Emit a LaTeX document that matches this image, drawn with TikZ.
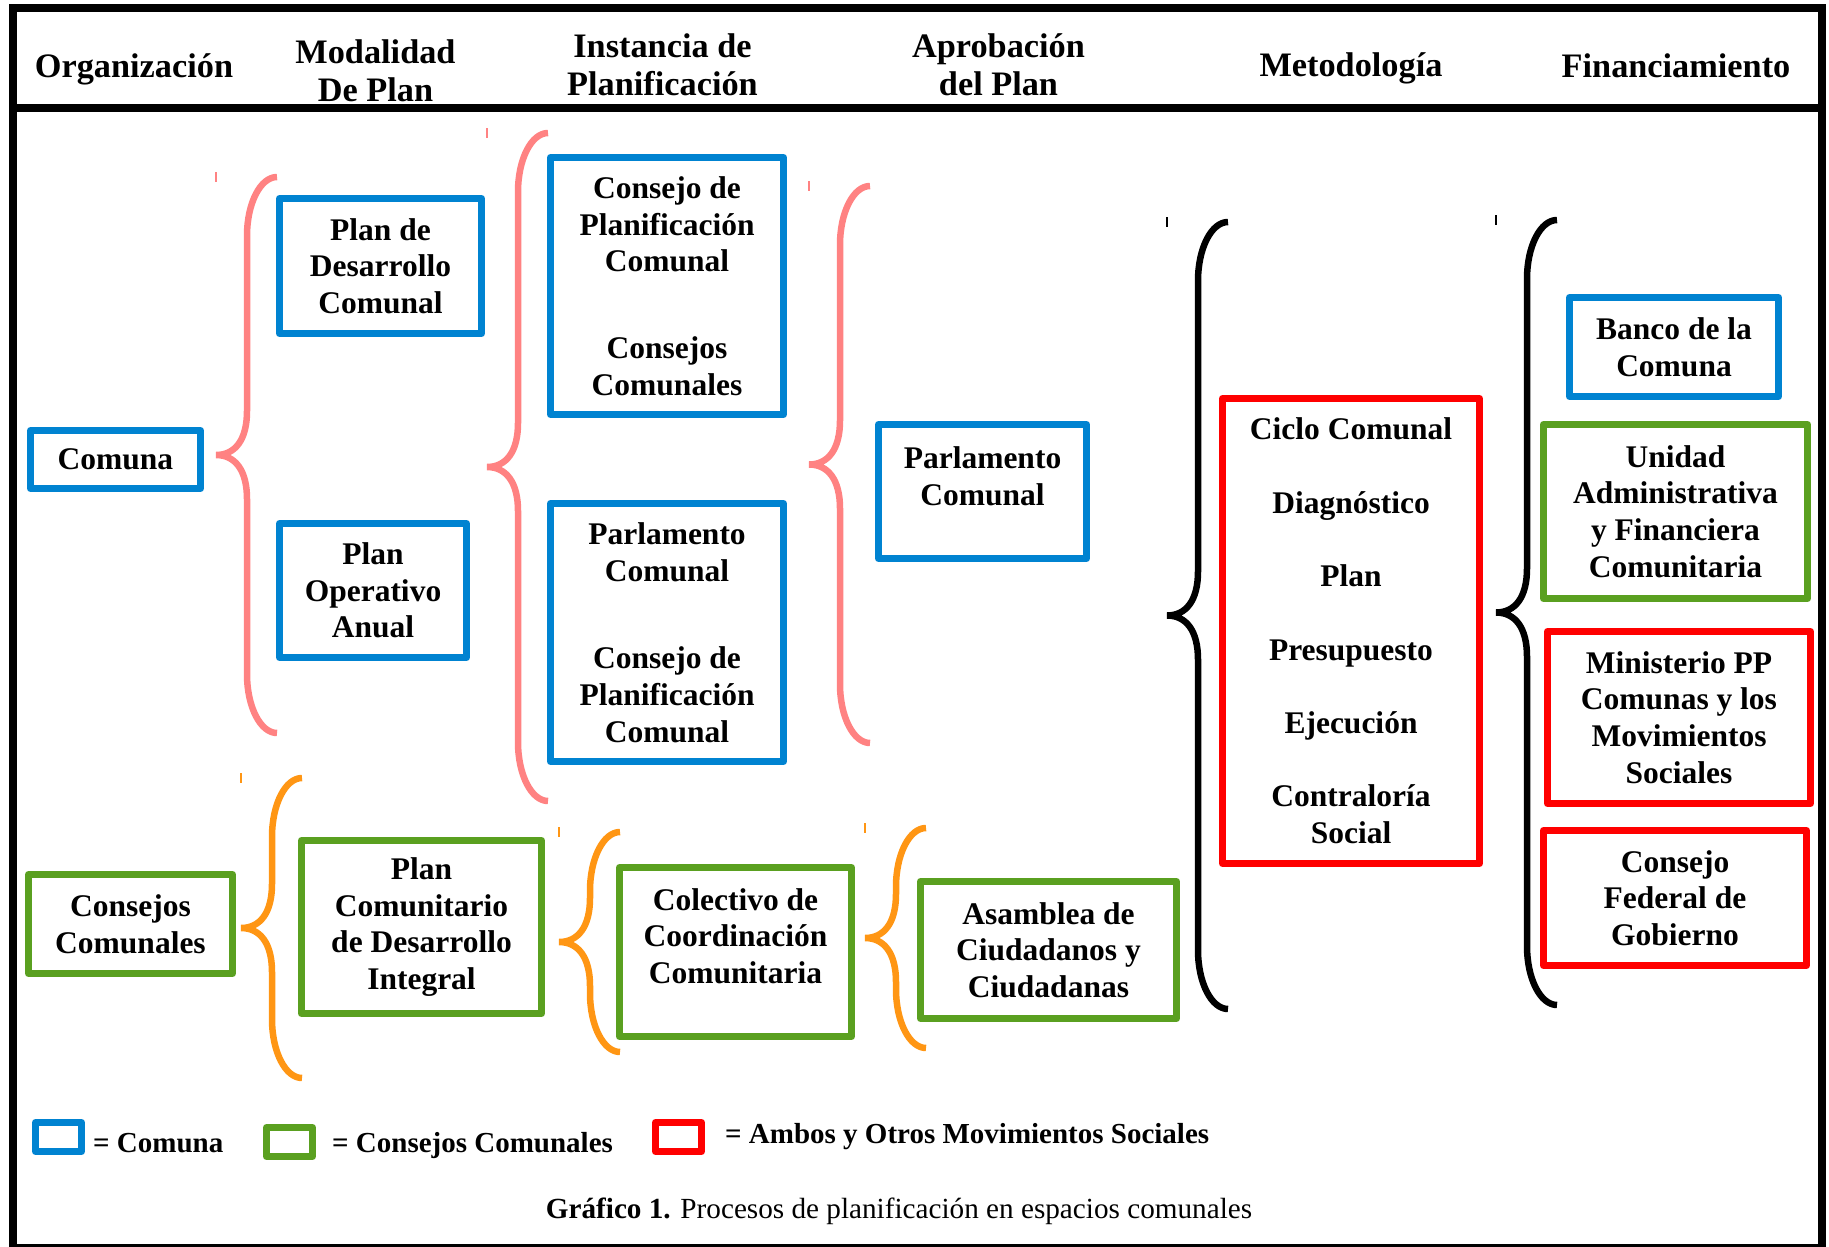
\documentclass[tikz,border=0pt]{standalone}
\usepackage{fontspec}
\setmainfont{Liberation Serif}
\usetikzlibrary{positioning}

\definecolor{azul}{RGB}{0,131,209}
\definecolor{verde}{RGB}{90,160,32}
\definecolor{rojo}{RGB}{255,0,0}
\definecolor{rosa}{RGB}{255,130,130}
\definecolor{naranja}{RGB}{255,150,20}

% llave: color, x of both ends, top, bottom
\newcommand{\llave}[4]{%
  \pgfmathsetmacro\llm{(#3+#4)/2}
  \pgfmathsetmacro\lls{#2-30}
  \pgfmathsetmacro\llt{#2-61}
  \draw[llave,#1] (#2,#3) .. controls (#2-16.5,#3) and (\lls,#3+26) .. (\lls,#3+59)
    -- (\lls,\llm-44) .. controls (\lls,\llm-15) and (\lls-12,\llm) .. (\llt,\llm)
    .. controls (\lls-12,\llm) and (\lls,\llm+15) .. (\lls,\llm+44)
    -- (\lls,#4-59) .. controls (\lls,#4-26) and (#2-16.5,#4) .. (#2,#4);
  \draw[#1,line width=1.5pt] (\llt,#3-5) -- (\llt,#3+5);
}

\begin{document}
\begin{tikzpicture}[x=1pt,y=-1pt,
  caja/.style={line width=7pt,line join=round,align=center,inner sep=0pt,
    font=\fontsize{31.5}{36.7}\selectfont\bfseries},
  comuna/.style={caja,draw=azul},
  consejo/.style={caja,draw=verde},
  ambos/.style={caja,draw=rojo},
  titulo/.style={align=center,inner sep=0pt,font=\fontsize{34.3}{38.5}\selectfont\bfseries},
  llave/.style={line width=6.5pt},
  muestra/.style={line width=7pt,line join=round,minimum width=46pt,minimum height=29pt,inner sep=0pt},
  leyenda/.style={anchor=base west,inner sep=0pt,font=\fontsize{29}{33}\selectfont\bfseries}]
  \useasboundingbox (0,0) rectangle (1829,1247);

  % column titles
  \node[titulo] (organizacion) at (134,69) {Organización};
  \node[titulo] (modalidad) at (375.5,71) {Modalidad\\De Plan};
  \node[titulo] (instancia) at (662.5,65) {Instancia de\\Planificación};
  \node[titulo] (aprobacion) at (998.5,65) {Aprobación\\del Plan};
  \node[titulo] (metodologia) at (1351,68.5) {Metodología};
  \node[titulo] (financiamiento) at (1676,65.5) {Financiamiento};

  \draw[line width=8pt] (13,8) rectangle (1822,1248);
  \draw[line width=8pt] (13,108) -- (1822,108);

  % comuna
  \node[comuna,minimum width=170pt,minimum height=58pt] (comuna) at (115.5,459.5) {Comuna};
  \node[comuna,minimum width=202pt,minimum height=135pt] (desarrollo) at (380.5,266) {Plan de\\Desarrollo\\Comunal};
  \node[comuna,minimum width=187pt,minimum height=134pt] (operativo) at (373,590.5) {Plan\\Operativo\\Anual};
  \node[comuna,minimum width=233pt,minimum height=257pt] (cpc) at (667,286)
    {Consejo de\\Planificación\\Comunal\\[50pt]Consejos\\Comunales};
  \node[comuna,minimum width=233pt,minimum height=258pt] (parlamento) at (667,632.5)
    {Parlamento\\Comunal\\[51pt]Consejo de\\Planificación\\Comunal};
  \node[comuna,minimum width=208pt,minimum height=134pt,text depth=31pt] (aprobado) at (982.5,491.5) {Parlamento\\Comunal};

  % metodologia
  \node[ambos,minimum width=257pt,minimum height=465pt] (ciclo) at (1351,631)
    {Ciclo Comunal\\[36.7pt]Diagnóstico\\[36.7pt]Plan\\[36.7pt]Presupuesto\\[36.7pt]Ejecución\\[36.7pt]Contraloría\\Social};

  % financiamiento
  \node[comuna,minimum width=209pt,minimum height=99pt] (banco) at (1674,347) {Banco de la\\Comuna};
  \node[consejo,minimum width=264pt,minimum height=174pt] (unidad) at (1675.5,511.5)
    {Unidad\\Administrativa\\y Financiera\\Comunitaria};
  \node[ambos,minimum width=263pt,minimum height=172pt] (ministerio) at (1679,717.5)
    {Ministerio PP\\Comunas y los\\Movimientos\\Sociales};
  \node[ambos,minimum width=263pt,minimum height=135pt] (federal) at (1675,898) {Consejo\\Federal de\\Gobierno};

  % consejos comunales
  \node[consejo,minimum width=204pt,minimum height=99pt] (consejos) at (130.5,924) {Consejos\\Comunales};
  \node[consejo,minimum width=240pt,minimum height=173pt] (integral) at (421.5,927)
    {Plan\\Comunitario\\de Desarrollo\\Integral};
  \node[consejo,minimum width=232pt,minimum height=169pt,text depth=32pt] (colectivo) at (735.5,952)
    {Colectivo de\\Coordinación\\Comunitaria};
  \node[consejo,minimum width=256pt,minimum height=137pt] (asamblea) at (1048.5,950)
    {Asamblea de\\Ciudadanos y\\Ciudadanas};

  % llaves
  \llave{rosa}{277}{177}{733}
  \llave{rosa}{548}{133}{801}
  \llave{rosa}{870}{186}{743}
  \llave{black}{1228}{222}{1009}
  \llave{black}{1557}{220}{1005}
  \llave{naranja}{302}{778}{1078}
  \llave{naranja}{620}{832}{1052}
  \llave{naranja}{926}{828}{1048}

  % leyenda
  \node[muestra,draw=azul] (m_comuna) at (58.5,1137) {};
  \node[leyenda] (l_comuna) at (93,1152) {= Comuna};
  \node[muestra,draw=verde] (m_consejos) at (289.5,1142) {};
  \node[leyenda] (l_consejos) at (332,1152) {= Consejos Comunales};
  \node[muestra,draw=rojo] (m_ambos) at (678.5,1137) {};
  \node[leyenda] (l_ambos) at (725,1143) {= Ambos y Otros Movimientos Sociales};

  \node[anchor=base,inner sep=0pt,font=\fontsize{29.2}{33}\selectfont] (grafico) at (899,1218)
    {\textbf{Gráfico 1.} Procesos de planificación en espacios comunales};
\end{tikzpicture}
\end{document}
